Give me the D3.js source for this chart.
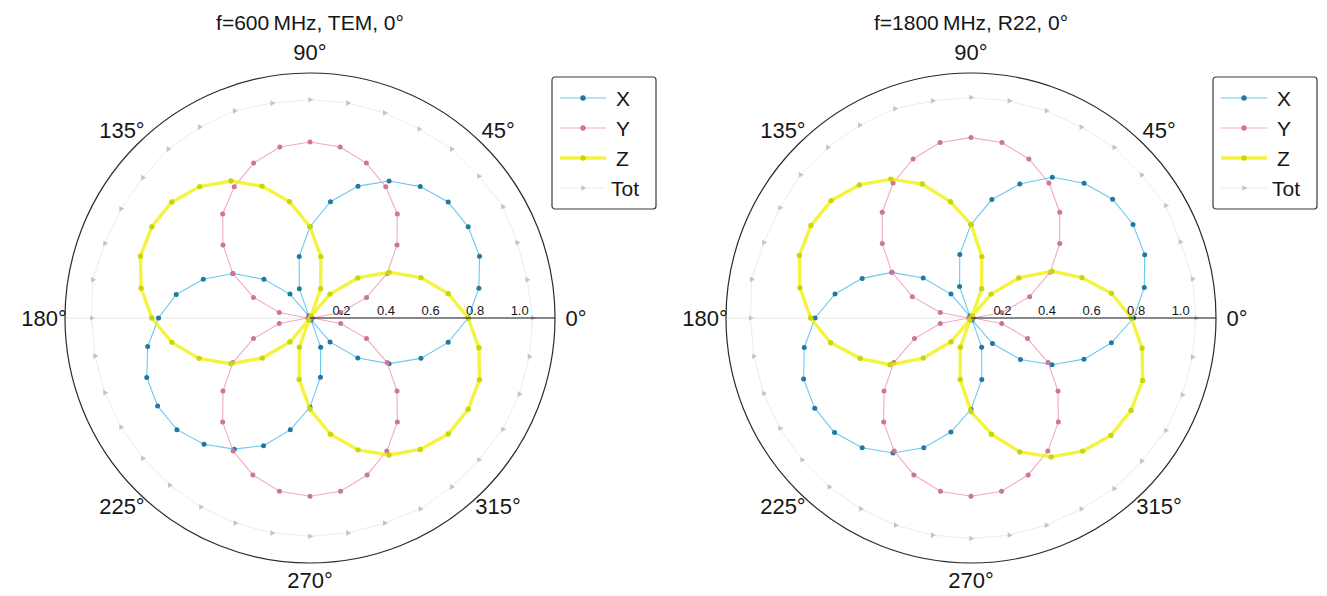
<!DOCTYPE html>
<html>
<head>
<meta charset="utf-8">
<script src="https://cdn.jsdelivr.net/npm/d3@7/dist/d3.min.js"></script>
<style>
  body { margin: 0; background: #fff; }
  svg text { font-family: "Liberation Sans", Arial, sans-serif; fill: #161616; }
</style>
</head>
<body>
<div id="chart"></div>
<script>
// measurement angles (deg)
const angles = [0, 10, 20, 30, 40, 50, 60, 70, 80, 90, 100, 110, 120, 130, 140, 150, 160, 170,
                180, 190, 200, 210, 220, 230, 240, 250, 260, 270, 280, 290, 300, 310, 320, 330, 340, 350];

const titles = ['f=600\u2009MHz, TEM, 0°', 'f=1800\u2009MHz, R22, 0°'];
const seriesNames = ['X', 'Y', 'Z', 'Tot'];

// 600 MHz, TEM cell
const x600 = [0.71, 0.77, 0.81, 0.82, 0.81, 0.77, 0.71, 0.63, 0.53, 0.41, 0.28, 0.14, 0.01, 0.14, 0.27, 0.40, 0.51, 0.61,
              0.68, 0.74, 0.78, 0.79, 0.78, 0.74, 0.68, 0.61, 0.51, 0.40, 0.27, 0.14, 0.01, 0.14, 0.28, 0.41, 0.53, 0.63];
const y600 = [0.01, 0.14, 0.27, 0.40, 0.51, 0.61, 0.68, 0.74, 0.78, 0.79, 0.78, 0.74, 0.68, 0.61, 0.51, 0.40, 0.27, 0.14,
              0.01, 0.14, 0.27, 0.40, 0.51, 0.61, 0.69, 0.75, 0.79, 0.80, 0.79, 0.75, 0.69, 0.61, 0.51, 0.40, 0.27, 0.14];
const z600 = [0.71, 0.63, 0.53, 0.41, 0.28, 0.14, 0.01, 0.14, 0.28, 0.41, 0.53, 0.63, 0.71, 0.77, 0.81, 0.82, 0.81, 0.77,
              0.71, 0.63, 0.53, 0.41, 0.28, 0.14, 0.01, 0.14, 0.28, 0.41, 0.53, 0.63, 0.71, 0.77, 0.81, 0.82, 0.81, 0.77];
const tot600 = [1.00, 0.99, 0.99, 1.00, 0.99, 0.99, 0.98, 0.98, 0.98, 0.98, 0.98, 0.99, 0.99, 0.99, 0.98, 0.98, 0.98, 0.99,
                0.98, 0.98, 0.98, 0.98, 0.98, 0.98, 0.98, 0.98, 0.98, 0.98, 0.98, 0.98, 0.99, 0.99, 0.99, 1.00, 1.00, 1.00];

// 1800 MHz, reverberation chamber
const x1800 = [0.73, 0.79, 0.83, 0.84, 0.83, 0.79, 0.73, 0.64, 0.54, 0.42, 0.29, 0.15, 0.01, 0.14, 0.28, 0.41, 0.52, 0.62,
               0.70, 0.76, 0.80, 0.81, 0.80, 0.76, 0.70, 0.62, 0.52, 0.41, 0.28, 0.14, 0.01, 0.15, 0.29, 0.42, 0.54, 0.64];
const y1800 = [0.01, 0.14, 0.28, 0.41, 0.52, 0.62, 0.70, 0.76, 0.80, 0.81, 0.80, 0.76, 0.70, 0.62, 0.52, 0.41, 0.28, 0.14,
               0.01, 0.14, 0.27, 0.40, 0.51, 0.61, 0.69, 0.75, 0.79, 0.80, 0.79, 0.75, 0.69, 0.61, 0.51, 0.40, 0.27, 0.14];
const z1800 = [0.72, 0.64, 0.53, 0.42, 0.28, 0.14, 0.01, 0.14, 0.28, 0.42, 0.53, 0.64, 0.72, 0.78, 0.82, 0.83, 0.82, 0.78,
               0.72, 0.64, 0.53, 0.42, 0.28, 0.14, 0.01, 0.14, 0.28, 0.42, 0.53, 0.64, 0.72, 0.78, 0.82, 0.83, 0.82, 0.78];
const tot1800 = [1.01, 1.01, 1.00, 1.01, 1.00, 1.00, 0.99, 0.99, 0.99, 0.99, 0.99, 1.00, 1.00, 1.00, 1.00, 0.99, 0.99, 1.00,
                 0.99, 0.99, 0.99, 0.99, 0.99, 0.99, 0.99, 0.99, 0.99, 0.99, 0.99, 0.99, 0.99, 1.00, 1.00, 1.01, 1.01, 1.01];

const radialTicks = [0.2, 0.4, 0.6, 0.8, 1.0];
const angleTicks = [0, 45, 90, 135, 180, 225, 270, 315];

const styles = {
  X:   { line: '#6cc8ee', width: 1.1, opacity: 1,    marker: '#22789f' },
  Y:   { line: '#f4a9c2', width: 1.1, opacity: 1,    marker: '#cc7690' },
  Z:   { line: '#f0f000', width: 3.4, opacity: 0.75, marker: '#c9d60c' },
  Tot: { line: '#ececec', width: 1,   opacity: 1,    marker: '#c4c4c4' }
};

const W = 1327, H = 596;
const svg = d3.select('#chart').append('svg')
  .attr('width', W)
  .attr('height', H);

function drawPolar(cx, cy, title, values) {
  const R = 245;
  const r = d3.scaleLinear().domain([0, 1.1]).range([0, R]);
  const rad = d => d * Math.PI / 180;
  const px = (a, v) => r(v) * Math.cos(rad(a));
  const py = (a, v) => -r(v) * Math.sin(rad(a));

  const g = svg.append('g').attr('transform', 'translate(' + cx + ',' + cy + ')');

  // faint line towards 180
  g.append('line')
    .attr('x1', 0).attr('y1', 0)
    .attr('x2', -R).attr('y2', 0)
    .attr('stroke', '#e8e8e8')
    .attr('stroke-width', 1);

  // outer circle
  g.append('circle')
    .attr('r', R)
    .attr('fill', 'none')
    .attr('stroke', '#2a2a2a')
    .attr('stroke-width', 1.2);

  const line = d3.line()
    .x(d => px(d.a, d.v))
    .y(d => py(d.a, d.v))
    .curve(d3.curveLinearClosed);

  // draw order: Tot, X, Y, Z
  ['Tot', 'X', 'Y', 'Z'].forEach(function(name) {
    const st = styles[name];
    const pts = angles.map((a, i) => ({ a: a, v: values[name][i] }));
    g.append('path')
      .datum(pts)
      .attr('d', line)
      .attr('fill', 'none')
      .attr('stroke', st.line)
      .attr('stroke-width', st.width)
      .attr('stroke-opacity', st.opacity);

    if (name === 'Tot') {
      g.append('g').selectAll('path')
        .data(pts)
        .enter().append('path')
          .attr('d', d3.symbol().type(d3.symbolTriangle).size(14))
          .attr('transform', d => 'translate(' + px(d.a, d.v) + ',' + py(d.a, d.v) + ') rotate(90)')
          .attr('fill', st.marker);
    } else {
      g.append('g').selectAll('circle')
        .data(pts)
        .enter().append('circle')
          .attr('cx', d => px(d.a, d.v))
          .attr('cy', d => py(d.a, d.v))
          .attr('r', name === 'Z' ? 2.7 : 2.5)
          .attr('fill', st.marker);
    }
  });

  // radial axis along 0 deg
  g.append('line')
    .attr('x1', 0).attr('y1', 0)
    .attr('x2', R).attr('y2', 0)
    .attr('stroke', '#111')
    .attr('stroke-width', 1);

  g.append('g').selectAll('text')
    .data(radialTicks)
    .enter().append('text')
      .attr('x', d => r(d) - 4)
      .attr('y', -3)
      .attr('text-anchor', 'end')
      .attr('font-size', 13)
      .text(d => d.toFixed(1));

  // angle labels
  g.append('g').selectAll('text')
    .data(angleTicks)
    .enter().append('text')
      .attr('x', d => 266 * Math.cos(rad(d)))
      .attr('y', d => d === 270 ? 262 : -266 * Math.sin(rad(d)))
      .attr('dy', '0.36em')
      .attr('text-anchor', 'middle')
      .attr('font-size', 22)
      .text(d => d + '°');

  // title
  svg.append('text')
    .attr('x', cx)
    .attr('y', 30)
    .attr('text-anchor', 'middle')
    .attr('font-size', 21)
    .text(title);

  // legend
  const lx = cx + 242, ly = 77;
  const legend = svg.append('g').attr('transform', 'translate(' + lx + ',' + ly + ')');
  legend.append('rect')
    .attr('width', 104)
    .attr('height', 132)
    .attr('rx', 3)
    .attr('fill', '#fff')
    .attr('stroke', '#3a3a3a')
    .attr('stroke-width', 1.2);

  const item = legend.selectAll('g.item')
    .data(seriesNames)
    .enter().append('g')
      .attr('class', 'item')
      .attr('transform', (d, i) => 'translate(0,' + (21 + i * 30) + ')');

  item.append('line')
    .attr('x1', 8).attr('x2', 54)
    .attr('stroke', d => styles[d].line)
    .attr('stroke-width', d => styles[d].width)
    .attr('stroke-opacity', d => styles[d].opacity);

  item.each(function(d) {
    const sel = d3.select(this);
    if (d === 'Tot') {
      sel.append('path')
        .attr('d', d3.symbol().type(d3.symbolTriangle).size(14))
        .attr('transform', 'translate(31,0) rotate(90)')
        .attr('fill', styles[d].marker);
    } else {
      sel.append('circle')
        .attr('cx', 31)
        .attr('r', 2.7)
        .attr('fill', styles[d].marker);
    }
  });

  item.append('text')
    .attr('x', d => d === 'Tot' ? 59 : 64)
    .attr('dy', '0.36em')
    .attr('font-size', 21)
    .text(d => d);
}

drawPolar(310, 318, titles[0], { X: x600, Y: y600, Z: z600, Tot: tot600 });
drawPolar(971, 318, titles[1], { X: x1800, Y: y1800, Z: z1800, Tot: tot1800 });
</script>
</body>
</html>
